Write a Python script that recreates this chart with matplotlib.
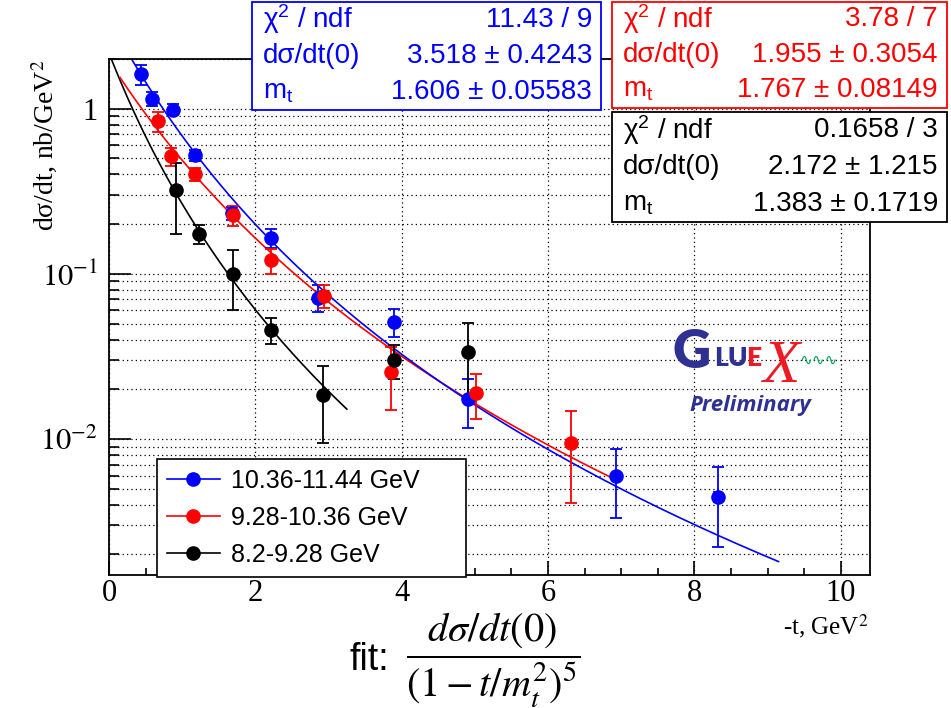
import numpy as np
import matplotlib
matplotlib.use("Agg")
import matplotlib.pyplot as plt
from matplotlib.lines import Line2D
from matplotlib.patches import Rectangle
from matplotlib.ticker import FixedLocator, LogLocator, NullFormatter, MultipleLocator

# data (-t in GeV^2, dsigma/dt in nb/GeV^2)
blue_t = [0.44, 0.59, 0.87, 1.17, 1.68, 2.21, 2.85, 3.89, 4.90, 6.93, 8.32]
blue_y = [1.62, 1.145, 0.986, 0.521, 0.233, 0.165, 0.0718, 0.0512, 0.0174, 0.0060, 0.00447]
blue_err = [0.225, 0.11, 0.075, 0.039, 0.022, 0.0215, 0.0133, 0.0097, 0.0057, 0.0027, 0.00225]
blue_terr = [0, 0, 0, 0, 0, 0, 0, 0, 0, 0, 0.05]

red_t = [0.67, 0.85, 1.18, 1.69, 2.21, 2.94, 3.86, 5.02, 6.32]
red_y = [0.838, 0.514, 0.40, 0.2257, 0.1205, 0.0739, 0.0255, 0.0191, 0.00942]
red_err = [0.12, 0.065, 0.037, 0.031, 0.021, 0.012, 0.0105, 0.0058, 0.0053]

black_t = [0.92, 1.23, 1.70, 2.21, 2.92, 3.89, 4.91]
black_y = [0.32, 0.175, 0.0996, 0.0458, 0.0185, 0.0301, 0.0335]
black_err = [0.146, 0.023, 0.039, 0.0083, 0.009, 0.007, 0.0167]

# fit results shown in the stat boxes: dsdt0, mt, fit range
blue_fit = [3.518, 1.606, 0.0, 9.15]
red_fit = [1.955, 1.767, 0.15, 6.85]
black_fit = [2.172, 1.383, 0.0, 3.25]

labels = ["10.36-11.44 GeV", "9.28-10.36 GeV", "8.2-9.28 GeV"]

blue_stats = [("\u03c7$^{2}$ / ndf", "11.43 / 9"), ("d\u03c3/dt(0)", "3.518 \u00b1 0.4243"),
              ("m$_{\\mathrm{t}}$", "1.606 \u00b1 0.05583")]
red_stats = [("\u03c7$^{2}$ / ndf", "3.78 / 7"), ("d\u03c3/dt(0)", "1.955 \u00b1 0.3054"),
             ("m$_{\\mathrm{t}}$", "1.767 \u00b1 0.08149")]
black_stats = [("\u03c7$^{2}$ / ndf", "0.1658 / 3"), ("d\u03c3/dt(0)", "2.172 \u00b1 1.215"),
               ("m$_{\\mathrm{t}}$", "1.383 \u00b1 0.1719")]

plt.rcParams["font.family"] = "Liberation Serif"
plt.rcParams["mathtext.fontset"] = "stix"
plt.rcParams["mathtext.rm"] = "Liberation Sans"
plt.rcParams["mathtext.it"] = "Liberation Sans:italic"
plt.rcParams["mathtext.bf"] = "Liberation Sans:bold"

W, H = 951, 708


def fx(px):
    return px / W


def fy(py):
    return 1 - py / H


fig = plt.figure(figsize=(W / 100, H / 100), dpi=100)
ax = fig.add_axes([fx(109), fy(575), (870 - 109) / W, (575 - 59) / H])


def fit_curve(p):
    t = np.linspace(p[2], p[3], 300)
    return t, p[0] / (1 + t / p[1] ** 2) ** 5


for p, c in [(black_fit, "black"), (red_fit, "red"), (blue_fit, "blue")]:
    t, f = fit_curve(p)
    ax.plot(t, f, color=c, lw=1.2, zorder=2)

ekw = dict(fmt="o", ms=9.5, elinewidth=1.3, capsize=4, capthick=1.3, zorder=3)
ax.errorbar(blue_t, blue_y, yerr=blue_err, xerr=blue_terr, color="blue", **ekw)
ax.errorbar(red_t, red_y, yerr=red_err, color="red", **ekw)
ax.errorbar(black_t, black_y, yerr=black_err, color="black", **ekw)

ax.set_yscale("log")
ax.set_xlim(0, 10.4)
ax.set_ylim(0.0015, 2.0)

ax.set_xticks([0, 2, 4, 6, 8, 10])
ax.xaxis.set_minor_locator(MultipleLocator(0.5))
ax.yaxis.set_major_locator(FixedLocator([0.01, 0.1, 1]))
ax.set_yticklabels([r"$10^{-2}$", r"$10^{-1}$", "1"])
ax.yaxis.set_minor_locator(LogLocator(base=10, subs=np.arange(2, 10)))
ax.yaxis.set_minor_formatter(NullFormatter())

ax.tick_params(which="both", direction="in", labelsize=22, width=1.2)
ax.tick_params(axis="y", which="major", length=16, pad=8)
ax.tick_params(axis="y", which="minor", length=7)
ax.tick_params(axis="x", which="major", length=10, pad=3)
ax.tick_params(axis="x", which="minor", length=5)
for s in ax.spines.values():
    s.set_linewidth(1.3)

ax.set_axisbelow(True)
ax.grid(True, which="both", axis="y", color="black", lw=0.9, ls=(0, (1, 2.5)))
ax.grid(True, which="major", axis="x", color="black", lw=0.9, ls=(0, (1, 2.5)))

fig.text(fx(45), fy(59), "d\u03c3/dt, nb/GeV$^{2}$", rotation=90, ha="center", va="top",
         fontsize=20, math_fontfamily="stix")
fig.text(fx(869), fy(626), "-t, GeV$^{2}$", ha="right", va="center", fontsize=18,
         math_fontfamily="stix")

# legend
handles = [Line2D([], [], color=c, marker="o", ms=9.5, lw=1.2) for c in ["blue", "red", "black"]]
leg = ax.legend(handles, labels, loc="upper left", mode="expand",
                bbox_to_anchor=(fx(157), fy(568), 309 / W, 109 / H), bbox_transform=fig.transFigure,
                borderaxespad=0, prop={"family": "Liberation Sans", "size": 18},
                handlelength=2.1, handletextpad=0.45, labelspacing=0.52, borderpad=0.4,
                fancybox=False, framealpha=1, edgecolor="black")
leg.get_frame().set_linewidth(1.2)


# stat boxes
def stat_box(x0, y0, x1, y1, rows, color):
    fig.patches.append(Rectangle((fx(x0), fy(y1)), (x1 - x0) / W, (y1 - y0) / H,
                                 transform=fig.transFigure, facecolor="white",
                                 edgecolor=color, lw=1.3, zorder=5))
    step = (y1 - y0) / 3
    for i, (name, val) in enumerate(rows):
        yy = y0 + step * (i + 0.5)
        fig.text(fx(x0 + 11), fy(yy), name, ha="left", va="center", color=color, fontsize=20,
                 family="Liberation Sans", math_fontfamily="custom", zorder=6)
        fig.text(fx(x1 - 9), fy(yy), val, ha="right", va="center", color=color, fontsize=20,
                 family="Liberation Sans", zorder=6)


stat_box(252, 1.5, 601, 110, blue_stats, "blue")
stat_box(612, 1.5, 947, 108, red_stats, "red")
stat_box(612, 112, 947, 222, black_stats, "black")

# GlueX logo
navy = "#2e3192"
fig.text(fx(672), fy(368), "G", color=navy, fontsize=38, family="Lato", weight="heavy", va="baseline")
fig.text(fx(714), fy(366), "LU", color=navy, fontsize=19, family="Lato", weight="heavy", va="baseline")
fig.text(fx(746), fy(366), "E", color="#ed1c24", fontsize=19, family="Lato", weight="heavy", va="baseline")
fig.text(fx(762), fy(382), "X", color="#ed1c24", fontsize=44, family="Liberation Serif",
         style="italic", va="baseline")
fig.text(fx(799), fy(360), "\u223f\u223f\u223f", color="#00a651", fontsize=11,
         family="DejaVu Sans", va="center")
fig.text(fx(750), fy(405), "Preliminary", color=navy, fontsize=16, family="Open Sans",
         style="italic", weight="bold", ha="center", va="center")

# fit formula
fig.text(fx(350), fy(660), "fit:", fontsize=27, family="Liberation Sans", ha="left", va="center")
fig.text(fx(406), fy(660), r"$\dfrac{d\sigma/dt(0)}{(1-t/m_t^{2})^{5}}$", fontsize=29,
         math_fontfamily="stix", ha="left", va="center")

fig.savefig("out.png", dpi=100)
